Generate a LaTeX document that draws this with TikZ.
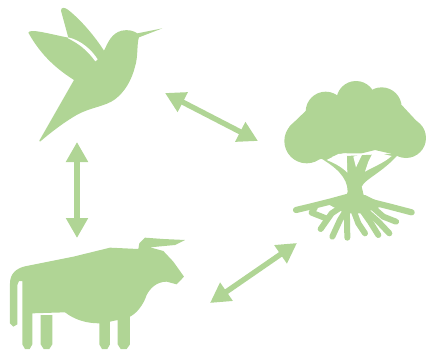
\documentclass[tikz,border=0pt]{standalone}
\usetikzlibrary{arrows.meta}
\definecolor{leafgreen}{HTML}{B0D595}
\tikzset{
  icon/.style={fill=leafgreen, draw=none},
  limb/.style={draw=leafgreen, line cap=round, line join=round},
  linkarrow/.style={draw=leafgreen, line width=5.4pt,
    {Triangle[length=20pt,width=21pt]}-{Triangle[length=20pt,width=21pt]}}
}
\begin{document}
\begin{tikzpicture}[x=1pt, y=-1pt]
  \useasboundingbox (0,0) rectangle (426,351);

  % --- Vogel ---
  \begin{scope}[x=1/3*1pt, y=-1/3*1pt]
    \fill[icon] (118,422) -- (222,240) .. controls (175,210) and (125,170) .. (85,98)
      .. controls (90,85) and (140,100) .. (205,113)
      -- (183,32) .. controls (183,20) and (195,22) .. (205,30)
      .. controls (245,62) and (285,110) .. (312,152)
      .. controls (325,125) and (335,100) .. (365,92)
      .. controls (385,88) and (400,92) .. (412,100)
      -- (487,85) -- (417,112)
      .. controls (410,130) and (415,170) .. (405,200)
      .. controls (395,240) and (375,275) .. (345,298)
      .. controls (315,320) and (270,322) .. (230,345)
      .. controls (195,365) and (155,395) .. (120,425) -- cycle;
    % Spalt zwischen den Flügeln
    \fill[white] (205,112) .. controls (245,122) and (275,150) .. (293,178)
      -- (286,184) .. controls (265,155) and (240,132) .. (204,115) -- cycle;
  \end{scope}

  % --- Baum ---
  \begin{scope}[shift={(270,70)}, x=1/3*1pt, y=-1/3*1pt]
    % Krone
    \fill[icon] (258,92) circle (59);
    \fill[icon] (167,125) circle (60);
    \fill[icon] (335,112) circle (60);
    \fill[icon] (110,213) circle (67);
    \fill[icon] (408,204) circle (60);
    \fill[icon] (108,122) -- (395,105) -- (460,175) -- (410,262) -- (315,240)
      -- (275,250) -- (220,250) -- (170,265) -- (90,275) -- (58,170) -- cycle;
    % Stamm und Äste
    \fill[icon] (148,262) .. controls (195,290) and (233,320) .. (233,365)
      -- (225,392) -- (285,392) -- (275,350)
      .. controls (287,325) and (335,310) .. (388,250) -- cycle;
    \fill[white] (170,270) -- (205,252) -- (230,250) -- (232,308) .. controls (215,290) and (190,278) .. (170,270) -- cycle;
    \fill[white] (250,260) -- (278,250) -- (258,292) -- cycle;
    \fill[white] (310,245) -- (365,258) .. controls (340,280) and (310,290) .. (285,305)
      -- (295,275) -- cycle;
    % Wurzeln
    \fill[icon] (170,400) -- (230,375) -- (285,375) -- (345,405) -- (280,430) -- (225,430) -- cycle;
    \draw[limb, line width=6.2pt] (78,420) -- (120,410) -- (180,395) -- (235,380);
    \draw[limb, line width=6.2pt] (425,427) -- (360,410) -- (300,395) -- (270,380);
    \draw[limb, line width=6pt] (125,428) -- (168,445) (135,412) -- (125,428);
    \draw[limb, line width=6pt] (152,477) -- (185,430) -- (230,400);
    \draw[limb, line width=6pt] (187,500) -- (210,450) -- (235,410);
    \draw[limb, line width=6pt] (232,503) -- (230,390);
    \draw[limb, line width=6pt] (285,490) -- (265,460) -- (250,420);
    \draw[limb, line width=6pt] (325,495) -- (300,455) -- (265,405);
    \draw[limb, line width=6pt] (358,490) -- (325,455) -- (285,420);
    \draw[limb, line width=6pt] (378,455) -- (340,440) -- (300,405);
  \end{scope}

  % --- Rind ---
  \begin{scope}[shift={(0,225)}, x=1/3*1pt, y=-1/3*1pt]
    \fill[icon] (30,295) -- (30,175) .. controls (30,145) and (50,130) .. (75,124)
      -- (220,95) -- (330,68) -- (415,72) -- (418,55) -- (435,38) -- (490,42)
      -- (555,45) -- (525,60) -- (450,67) -- (490,78) -- (520,110) -- (552,155)
      -- (530,178) -- (500,170) .. controls (470,170) and (450,190) .. (440,210)
      .. controls (430,240) and (410,265) .. (390,275)
      -- (390,358) -- (380,372) -- (362,372) -- (353,358) -- (353,285) -- (330,290)
      -- (330,358) -- (322,372) -- (306,372) -- (298,358) -- (298,295)
      .. controls (260,295) and (225,285) .. (195,262)
      -- (97,265) -- (97,358) -- (89,372) -- (75,372) -- (67,358)
      -- (67,168) -- (57,168) -- (52,180) -- (52,298) -- (40,305) -- cycle;
    \fill[icon] (122,270) -- (157,270) -- (157,358) -- (148,372) -- (131,372) -- (122,358) -- cycle;
  \end{scope}

  % --- Pfeile ---
  \coordinate (bird_east) at (165,93);
  \coordinate (tree_west) at (258,141);
  \coordinate (tree_south) at (297,243);
  \coordinate (cow_east) at (210,303);
  \coordinate (bird_south) at (77,142);
  \coordinate (cow_north) at (77,238);
  \draw[linkarrow] (bird_east) -- (tree_west);
  \draw[linkarrow] (cow_east) -- (tree_south);
  \draw[linkarrow] (bird_south) -- (cow_north);

\end{tikzpicture}
\end{document}
